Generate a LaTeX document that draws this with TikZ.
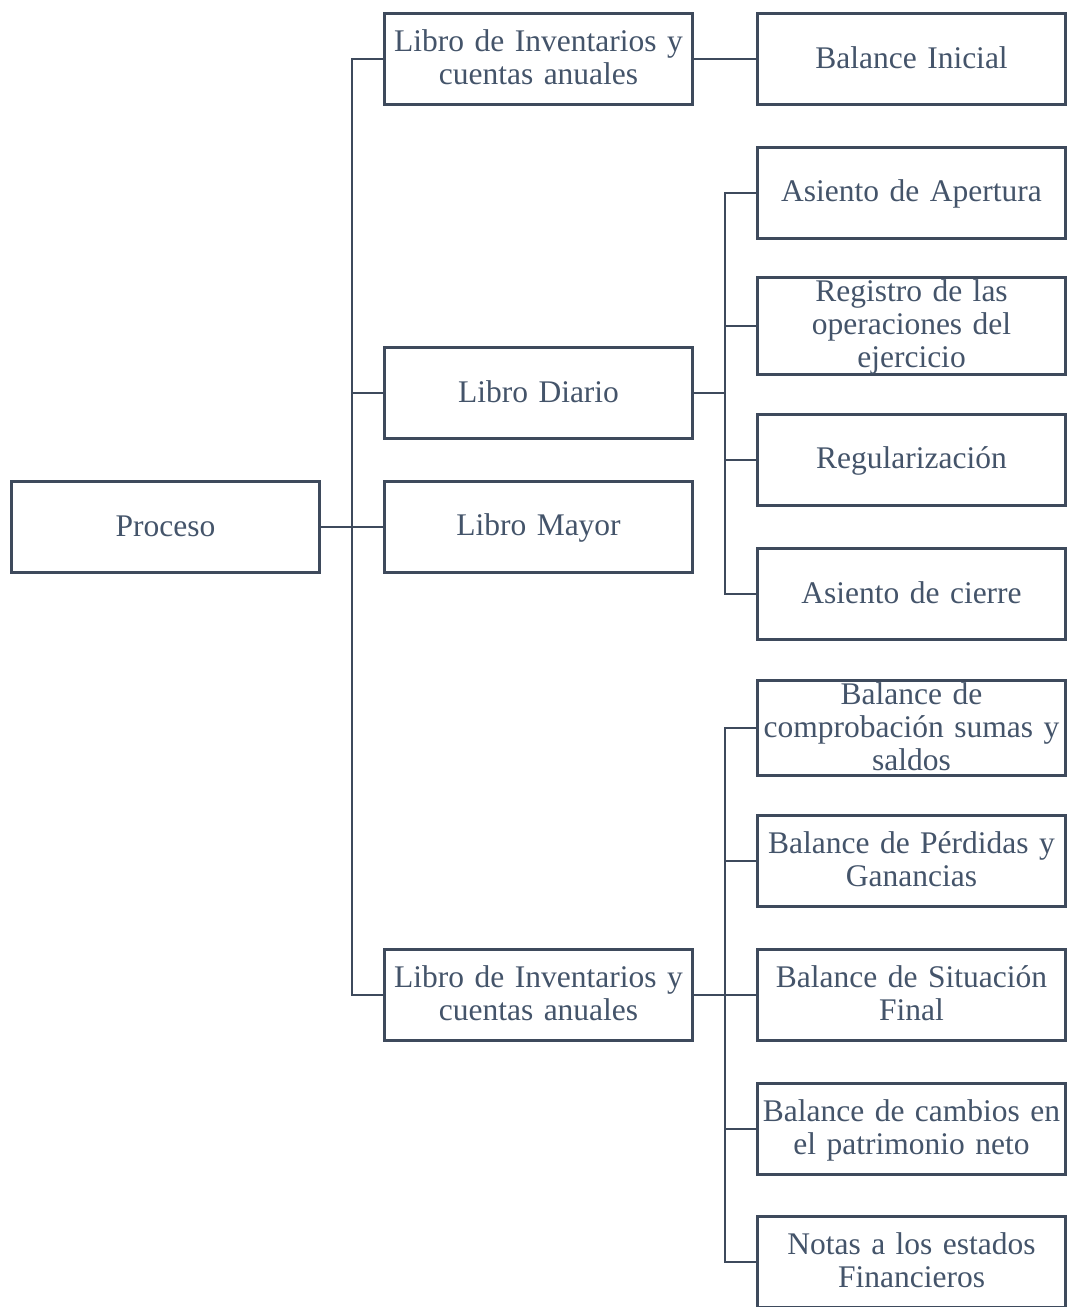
\documentclass[tikz,border=0pt]{standalone}
\usepackage{fontspec}
\setmainfont{Liberation Serif}
\usetikzlibrary{positioning}
\definecolor{slate}{HTML}{3E4A5C}
\definecolor{slatetext}{HTML}{44546A}
\newcommand{\boxstrut}{\rule[-5.5pt]{0pt}{29.5pt}}

\begin{document}
\begin{tikzpicture}[
x=1pt, y=-1pt,
font=\fontsize{31.5}{33}\selectfont, box/.style={
    draw=slate, line width=2.8pt, fill=white, text=slatetext,
    minimum width=308pt, minimum height=91pt, inner sep=0pt,
    text width=304pt, align=center, anchor=center,
    execute at begin node=\boxstrut, execute at end node=\boxstrut},
link/.style={draw=slate, line width=2.8pt},
]
\useasboundingbox (0,0) rectangle (1067,1307);

% first level
\node[box] (proc) at (165.5,527) {Proceso};

% second level
\node[box] (inva) at (538.5,59)  {Libro de Inventarios y\\cuentas anuales};
\node[box] (diario) at (538.5,393) {Libro Diario};
\node[box] (mayor) at (538.5,527) {Libro Mayor};
\node[box] (invb) at (538.5,995) {Libro de Inventarios y\\cuentas anuales};

% third level
\node[box] (inicial) at (911.5,59) {Balance Inicial};
\node[box] (apert) at (911.5,193) {Asiento de Apertura};
\node[box] (regis) at (911.5,326) {Registro de las\\operaciones del\\ejercicio};
\node[box] (regul) at (911.5,460) {Regularizaci\'on};
\node[box] (cierre) at (911.5,594) {Asiento de cierre};
\node[box] (compr) at (911.5,728) {Balance de\\comprobaci\'on sumas y\\saldos};
\node[box] (perd) at (911.5,861) {Balance de P\'erdidas y\\Ganancias};
\node[box] (situ) at (911.5,995) {Balance de Situaci\'on\\Final};
\node[box] (cambio) at (911.5,1129) {Balance de cambios en\\el patrimonio neto};
\node[box] (notas) at (911.5,1262) {Notas a los estados\\Financieros};

\foreach \n in {inva,diario,mayor,invb}
  \draw[link] (proc.east) -- ++(31,0) |- (\n.west);

\draw[link] (inva.east) -- (inicial.west);

\foreach \n in {apert,regis,regul,cierre}
  \draw[link] (diario.east) -- ++(31,0) |- (\n.west);

\foreach \n in {compr,perd,situ,cambio,notas}
  \draw[link] (invb.east) -- ++(31,0) |- (\n.west);

\end{tikzpicture}
\end{document}
